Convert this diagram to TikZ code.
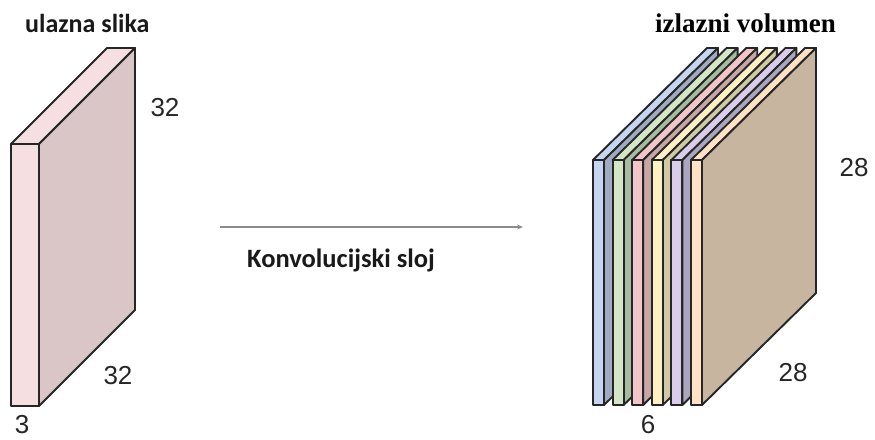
\documentclass[tikz,border=0pt]{standalone}
\usepackage{fontspec}
\setmainfont{Liberation Sans}
\newfontfamily\calib{Carlito}
\newfontfamily\timesf{Liberation Serif}
\usetikzlibrary{arrows.meta}
\definecolor{lfront}{HTML}{F6DFE0}
\definecolor{lside}{HTML}{DAC6C7}
\definecolor{bluef}{HTML}{C6D6F2}\definecolor{blues}{HTML}{A0ABC2}
\definecolor{greenf}{HTML}{D4E6C6}\definecolor{greens}{HTML}{A6BCA0}
\definecolor{pinkf}{HTML}{F2C6C8}\definecolor{pinks}{HTML}{C6A6A6}
\definecolor{yellowf}{HTML}{FFF0C4}\definecolor{yellows}{HTML}{CFCAA3}
\definecolor{purplef}{HTML}{D9CDEB}\definecolor{purples}{HTML}{AAA6C0}
\definecolor{peachf}{HTML}{FFE2C6}\definecolor{peachs}{HTML}{C8B5A0}
\begin{document}
\begin{tikzpicture}[x=1pt,y=-1pt,
  edge/.style={line width=1.9pt,draw=black!85,line join=round},
  dimlab/.style={font=\fontsize{26}{30}\selectfont, text=black!85, inner sep=0pt},
  titlelab/.style={font=\calib\bfseries\fontsize{26}{30}\selectfont, text=black!90, inner sep=0pt},
  convlab/.style={font=\calib\bfseries\fontsize{26.5}{30}\selectfont, text=black!90, inner sep=0pt},
  serlab/.style={font=\timesf\bfseries\fontsize{27}{30}\selectfont, text=black, inner sep=0pt}]
\useasboundingbox (0,0) rectangle (875,439);
% input slab
\filldraw[edge,fill=lfront] (11,144) -- (39,144) -- (135,48) -- (107,48) -- cycle;
\filldraw[edge,fill=lside] (39,144) -- (135,48) -- (135,310) -- (39,406) -- cycle;
\filldraw[edge,fill=lfront] (11,144) rectangle (39,406);
% output volume
\foreach \i/\fc/\sc in {0/bluef/blues,1/greenf/greens,2/pinkf/pinks,3/yellowf/yellows,4/purplef/purples,5/peachf/peachs}{
  \pgfmathsetmacro\xo{593+19.6*\i}
  \filldraw[edge,fill=\fc] (\xo,160) -- (\xo+11,160) -- (\xo+125,48) -- (\xo+114,48) -- cycle;
  \filldraw[edge,fill=\sc] (\xo+11,160) -- (\xo+125,48) -- (\xo+125,293) -- (\xo+11,405) -- cycle;
  \filldraw[edge,fill=\fc] (\xo,160) rectangle (\xo+11,405);
}
% labels
\node[titlelab,anchor=base west] (tin) at (25,32) {ulazna slika};
\node[serlab,anchor=base west] (tout) at (655,32) {izlazni volumen};
\node[dimlab] (h1) at (165,108) {32};
\node[dimlab] (w1) at (118,376) {32};
\node[dimlab] (d1) at (22,425) {3};
\node[dimlab] (h2) at (854,168) {28};
\node[dimlab] (w2) at (793,373) {28};
\node[dimlab] (d2) at (648,425) {6};
\node[convlab,anchor=base west] (conv) at (247,267) {Konvolucijski sloj};
% arrow
\coordinate (a1) at (220,227);
\coordinate (a2) at (523,227);
\draw[line width=1.3pt,draw=black!45,-{Stealth[length=6pt,width=5pt]}] (a1) -- (a2);
\end{tikzpicture}
\end{document}
